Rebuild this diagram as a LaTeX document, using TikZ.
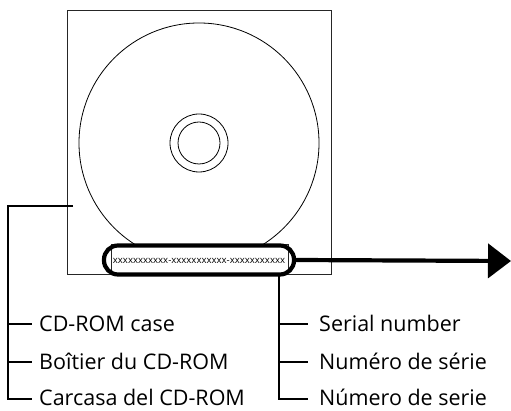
\documentclass[tikz,border=0pt]{standalone}
\usepackage{fontspec}
\setmainfont{Open Sans}
\usetikzlibrary{arrows.meta}
\begin{document}
\begin{tikzpicture}[x=1pt,y=-1pt,
  thin line/.style={line width=0.9pt,draw=black!85},
  lead/.style={line width=1.1pt,draw=black},
  lbl/.style={anchor=base west,inner sep=0pt,font=\fontsize{21.5}{24}\selectfont},
]
\useasboundingbox (0,0) rectangle (511,411);
% case
\node[thin line,draw,minimum width=264,minimum height=264,inner sep=0pt] (case) at (199,142) {};
% disc
\node[circle,draw,line width=0.8pt,minimum size=240,inner sep=0pt] (disc) at (199,143) {};
\node[circle,draw,line width=0.8pt,minimum size=58,inner sep=0pt] (hubo) at (199,143) {};
\node[circle,draw,line width=0.8pt,minimum size=42,inner sep=0pt] (hubi) at (199,143) {};
% label sticker
\fill[white] (111,244) rectangle (288,272);
\draw[thin line] (111,272) -- (111,244) -- (288,244) -- (288,272);
\node[inner sep=0pt,font=\fontsize{9.6}{11}\selectfont] (serial) at (199,261) {xxxxxxxxxxx-xxxxxxxxxxx-xxxxxxxxxxx};
\node[draw,line width=4.2pt,rounded corners=14pt,minimum width=190,minimum height=29,inner sep=0pt] (oval) at (199,260) {};
% arrow
\coordinate (arrowend) at (511,261);
\draw[line width=4.2pt,-{Triangle[length=23pt,width=34pt]}] (oval.east) -- (arrowend);
% left bracket
\coordinate (lt) at (73,206);
\coordinate (lc) at (8,206);
\coordinate (lb) at (8,399);
\node[lbl] (l1) at (39,332) {CD-ROM case};
\node[lbl] (l2) at (39,369) {Boîtier du CD-ROM};
\node[lbl] (l3) at (39,405) {Carcasa del CD-ROM};
\draw[lead] (lt) -- (lc) -- (lb) -- (32,399);
\draw[lead] (8,324) -- (32,324);
\draw[lead] (8,362) -- (32,362);
% right bracket
\coordinate (rt) at (279,274);
\coordinate (rb) at (279,399);
\node[lbl] (r1) at (319,332) {Serial number};
\node[lbl] (r2) at (319,369) {Numéro de série};
\node[lbl] (r3) at (319,405) {Número de serie};
\draw[lead] (rt) -- (rb) -- (308,399);
\draw[lead] (279,324) -- (308,324);
\draw[lead] (279,362) -- (308,362);
\end{tikzpicture}
\end{document}
